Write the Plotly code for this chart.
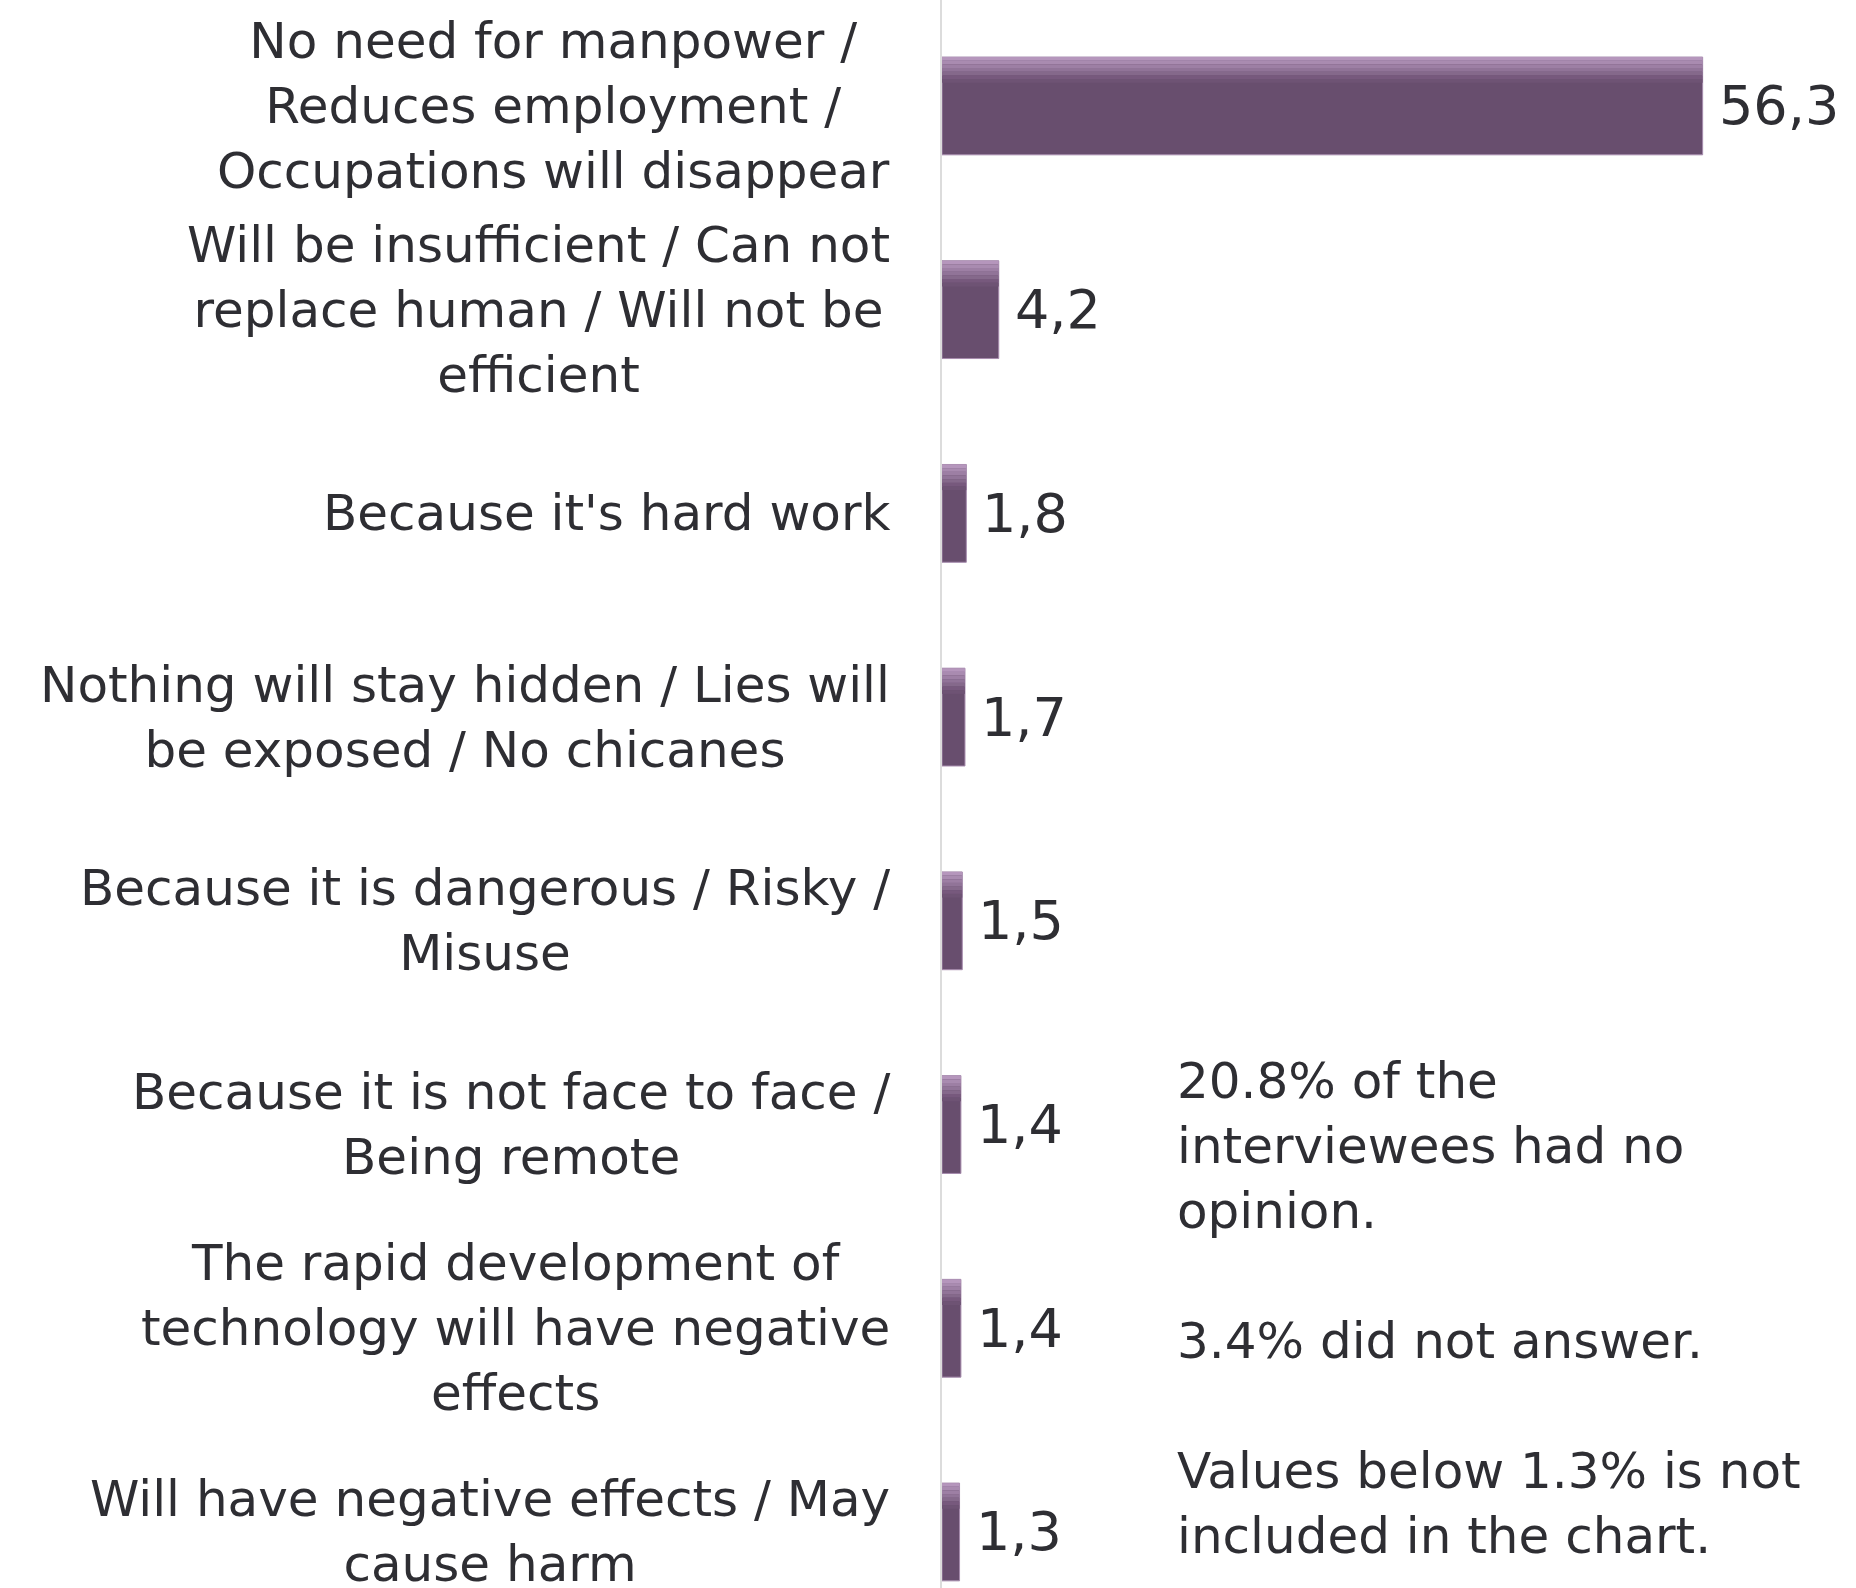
import plotly.graph_objects as go

# Reasons respondents gave (top to bottom) and their shares in percent
categories = [
    "No need for manpower /<br>Reduces employment /<br>Occupations will disappear",
    "Will be insufficient / Can not<br>replace human / Will not be<br>efficient",
    "Because it's hard work",
    "Nothing will stay hidden / Lies will<br>be exposed / No chicanes",
    "Because it is dangerous / Risky /<br>Misuse",
    "Because it is not face to face /<br>Being remote",
    "The rapid development of<br>technology will have negative<br>effects",
    "Will have negative effects / May<br>cause harm",
]
values = [56.3, 4.2, 1.8, 1.7, 1.5, 1.4, 1.4, 1.3]
value_labels = ["56,3", "4,2", "1,8", "1,7", "1,5", "1,4", "1,4", "1,3"]

notes = [
    "20.8% of the",
    "interviewees had no",
    "opinion.",
    " ",
    "3.4% did not answer.",
    " ",
    "Values below 1.3% is not",
    "included in the chart.",
]

FONT = "DejaVu Sans"
TEXT_COLOR = "#2e2e33"
BAR_COLOR = "#684e6e"
BAR_W = 0.48

pos = list(range(len(values)))

fig = go.Figure()

# main bars
fig.add_trace(go.Bar(
    x=values, y=pos, orientation="h", width=BAR_W,
    marker=dict(color=BAR_COLOR, line=dict(color="#a68bad", width=1)),
    hoverinfo="skip", showlegend=False,
))

# soft highlight along the top edge of each bar (bevel look)
bands = ["#b596bc", "#a98bb0", "#9d7fa4", "#917498", "#85698b", "#77597d", "#6e5374"]
band_h = 0.018
for i, c in enumerate(bands):
    fig.add_trace(go.Bar(
        x=values, y=pos, orientation="h",
        width=band_h, offset=-BAR_W / 2 + i * band_h,
        marker=dict(color=c, line=dict(width=0)),
        hoverinfo="skip", showlegend=False,
    ))

annotations = []
for p, cat, v, lab in zip(pos, categories, values, value_labels):
    annotations.append(dict(
        x=0, y=p, xref="x", yref="y", text=cat, showarrow=False,
        xanchor="right", yanchor="middle", align="center", xshift=-50,
        font=dict(family=FONT, size=50, color=TEXT_COLOR),
    ))
    annotations.append(dict(
        x=v, y=p, xref="x", yref="y", text=lab, showarrow=False,
        xanchor="left", yanchor="middle", xshift=14,
        font=dict(family=FONT, size=54, color=TEXT_COLOR),
    ))

annotations.append(dict(
    x=0.255, y=1 - 1308 / 1588, xref="paper", yref="paper",
    text="<br>".join(notes), showarrow=False,
    xanchor="left", yanchor="middle", align="left",
    font=dict(family=FONT, size=50, color=TEXT_COLOR),
))

fig.update_layout(
    width=1856, height=1588,
    margin=dict(l=942, r=0, t=0, b=0),
    paper_bgcolor="white", plot_bgcolor="white",
    barmode="overlay",
    xaxis=dict(range=[0, 67.65], visible=False, fixedrange=True),
    yaxis=dict(range=[7.275, -0.52], showticklabels=False, showgrid=False,
               zeroline=False, showline=True, linecolor="#dcdcdc", linewidth=2,
               ticks=""),
    annotations=annotations,
)

fig.write_html("out.html")
